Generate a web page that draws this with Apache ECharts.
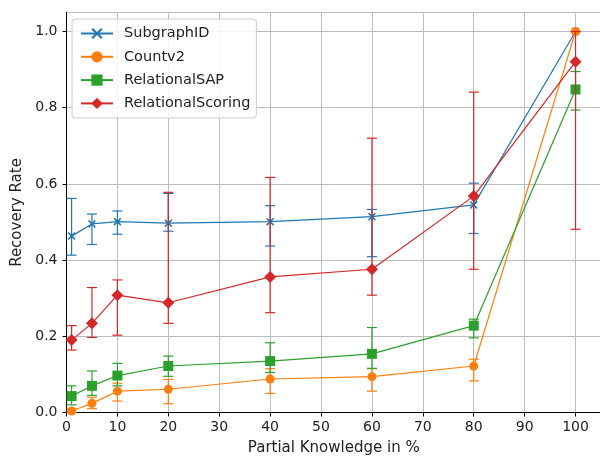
<!DOCTYPE html>
<html>
<head>
<meta charset="utf-8">
<script src="https://cdn.jsdelivr.net/npm/echarts@6/dist/echarts.min.js"></script>
<style>
  html, body { margin: 0; padding: 0; background: #fff; overflow: hidden; }
  #chart { width: 600px; height: 459px; }
</style>
</head>
<body>
<div id="chart"></div>
<script>
// Partial knowledge levels (%)
const knowledge = [1, 5, 10, 20, 40, 60, 80, 100];

// Recovery rate per method: mean, lower and upper error bar ends
const subgraphMean = [0.463, 0.495, 0.501, 0.497, 0.501, 0.514, 0.545, 1.0];
const subgraphLow  = [0.413, 0.441, 0.468, 0.476, 0.437, 0.409, 0.470, 1.0];
const subgraphHigh = [0.562, 0.521, 0.529, 0.575, 0.543, 0.533, 0.602, 1.0];

const countMean = [0.004, 0.024, 0.056, 0.061, 0.088, 0.094, 0.122, 1.0];
const countLow  = [0.000, 0.010, 0.030, 0.023, 0.050, 0.056, 0.083, 1.0];
const countHigh = [0.010, 0.040, 0.077, 0.087, 0.115, 0.115, 0.140, 1.0];

const sapMean = [0.043, 0.070, 0.097, 0.122, 0.135, 0.154, 0.228, 0.848];
const sapLow  = [0.020, 0.045, 0.070, 0.095, 0.105, 0.116, 0.196, 0.794];
const sapHigh = [0.070, 0.109, 0.129, 0.148, 0.183, 0.223, 0.245, 0.895];

const scoringMean = [0.190, 0.234, 0.308, 0.288, 0.356, 0.376, 0.568, 0.921];
const scoringLow  = [0.164, 0.197, 0.203, 0.234, 0.262, 0.308, 0.376, 0.481];
const scoringHigh = [0.228, 0.328, 0.348, 0.578, 0.617, 0.720, 0.841, 1.0];

const methodNames = ['SubgraphID', 'Countv2', 'RelationalSAP', 'RelationalScoring'];

// thin "x" marker outline
const xMarker = 'path://M0,1.4L1.4,0L5,3.6L8.6,0L10,1.4L6.4,5L10,8.6L8.6,10L5,6.4L1.4,10L0,8.6L3.6,5Z';

const methods = [
  { name: methodNames[0], mean: subgraphMean, low: subgraphLow, high: subgraphHigh, color: '#1f77b4', symbol: xMarker, size: 8 },
  { name: methodNames[1], mean: countMean, low: countLow, high: countHigh, color: '#ff7f0e', symbol: 'circle', size: 9 },
  { name: methodNames[2], mean: sapMean, low: sapLow, high: sapHigh, color: '#2ca02c', symbol: 'rect', size: 10 },
  { name: methodNames[3], mean: scoringMean, low: scoringLow, high: scoringHigh, color: '#d62728', symbol: 'diamond', size: 12 }
];

const FONT = 'DejaVu Sans';

function errorBarRenderer(color) {
  return function (params, api) {
    const x = api.value(0);
    const lo = api.coord([x, api.value(1)]);
    const hi = api.coord([x, api.value(2)]);
    const cap = 5;
    const style = { stroke: color, lineWidth: 1.2 };
    return {
      type: 'group',
      children: [
        { type: 'line', shape: { x1: lo[0], y1: lo[1], x2: hi[0], y2: hi[1] }, style: style },
        { type: 'line', shape: { x1: lo[0] - cap, y1: lo[1], x2: lo[0] + cap, y2: lo[1] }, style: style },
        { type: 'line', shape: { x1: hi[0] - cap, y1: hi[1], x2: hi[0] + cap, y2: hi[1] }, style: style }
      ]
    };
  };
}

const series = [];
methods.forEach(function (m, k) {
  series.push({
    name: m.name + ' error',
    type: 'custom',
    renderItem: errorBarRenderer(m.color),
    encode: { x: 0, y: [1, 2] },
    data: knowledge.map(function (x, i) { return [x, m.low[i], m.high[i]]; }),
    z: 10 + k * 3,
    silent: true,
    animation: false
  });
  series.push({
    name: m.name,
    type: 'line',
    data: knowledge.map(function (x, i) { return [x, m.mean[i]]; }),
    symbol: m.symbol,
    symbolSize: m.size,
    showAllSymbol: true,
    lineStyle: { color: m.color, width: 1.2 },
    itemStyle: { color: m.color, borderColor: m.color, borderWidth: 0 },
    z: 11 + k * 3,
    animation: false
  });
});

const chart = echarts.init(document.getElementById('chart'), null, { renderer: 'canvas' });
chart.setOption({
  animation: false,
  backgroundColor: '#ffffff',
  grid: {
    left: 66.5, right: -1, top: 12.5, bottom: 46.5,
    containLabel: false,
    outerBoundsMode: 'none',
    show: true, borderColor: '#000', borderWidth: 1, backgroundColor: 'transparent'
  },
  legend: {
    data: methodNames,
    orient: 'vertical',
    left: 72, top: 19,
    padding: [7, 6, 7, 8],
    itemWidth: 32, itemHeight: 14, itemGap: 8.3,
    backgroundColor: 'rgba(255,255,255,0.85)',
    borderColor: '#cccccc', borderWidth: 1, borderRadius: 3,
    textStyle: { fontFamily: FONT, fontSize: 14.5, lineHeight: 14, color: '#222', padding: [0, 0, 0, 6] }
  },
  xAxis: {
    type: 'value',
    min: 0, max: 105, interval: 10,
    name: 'Partial Knowledge in %',
    nameLocation: 'middle', nameGap: 28,
    nameTextStyle: { fontFamily: FONT, fontSize: 15, color: '#222' },
    axisLine: { show: true, onZero: false, lineStyle: { color: '#000', width: 1 } },
    axisTick: { show: true, length: 4, lineStyle: { color: '#000' } },
    axisLabel: {
      fontFamily: FONT, fontSize: 14, color: '#222', margin: 8,
      showMaxLabel: false,
      formatter: function (v) { return v % 10 === 0 ? String(v) : ''; }
    },
    splitLine: { show: true, lineStyle: { color: '#bdbdbd', width: 1 } }
  },
  yAxis: {
    type: 'value',
    min: 0, max: 1.05, interval: 0.2,
    name: 'Recovery Rate',
    nameLocation: 'middle', nameGap: 41,
    nameTextStyle: { fontFamily: FONT, fontSize: 15, color: '#222' },
    axisLine: { show: true, onZero: false, lineStyle: { color: '#000', width: 1 } },
    axisTick: { show: true, length: 4, lineStyle: { color: '#000' } },
    axisLabel: {
      fontFamily: FONT, fontSize: 14, color: '#222', margin: 9,
      showMaxLabel: false,
      formatter: function (v) { return v.toFixed(1); }
    },
    splitLine: { show: true, lineStyle: { color: '#bdbdbd', width: 1 } }
  },
  series: series
});
</script>
</body>
</html>
